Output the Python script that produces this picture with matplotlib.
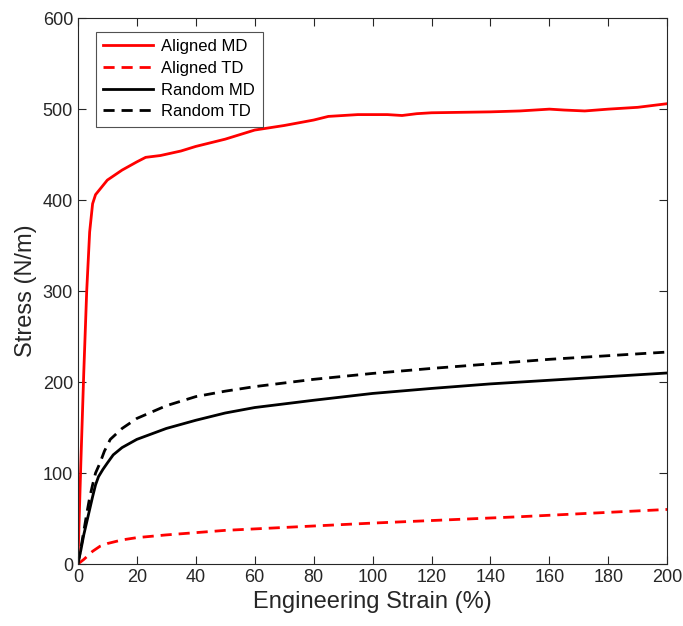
import numpy as np
import matplotlib.pyplot as plt

plt.rcParams['font.family'] = ['Liberation Sans', 'DejaVu Sans']

# strain (%) and stress (N/m)
aligned_md_x = [0, 1, 2, 3, 4, 5, 6, 7.5, 10, 15, 20, 23, 28, 35, 40, 50, 60, 70, 80, 85, 90,
                95, 100, 105, 110, 115, 120, 130, 140, 150, 160, 165, 172, 180, 190, 200]
aligned_md_y = [0, 110, 210, 300, 365, 396, 406, 412, 422, 433, 442, 447, 449, 454, 459, 467,
                477, 482, 488, 492, 493, 494, 494, 494, 493, 495, 496, 496.5, 497, 498, 500, 499,
                498, 500, 502, 506]

aligned_td_x = [0, 2, 5, 7.5, 10, 15, 20, 30, 50, 75, 100, 125, 150, 175, 200]
aligned_td_y = [0, 5, 14, 19.5, 22.5, 26.5, 29, 32, 37, 41, 45, 48.5, 52, 56, 60]

random_md_x = [0, 1, 2, 3, 4, 5, 6, 7, 8.5, 10, 12, 15, 20, 30, 40, 50, 60, 80, 100, 120, 140, 160, 180, 200]
random_md_y = [0, 15, 32, 46, 60, 74, 87, 96, 104, 111, 120, 128, 137, 149, 158, 166, 172, 180, 187.5, 193, 198, 202, 206, 210]

random_td_x = [0, 1, 2, 3, 4, 5, 6, 7.5, 9, 11, 15, 20, 30, 40, 50, 60, 80, 100, 120, 140, 160, 180, 200]
random_td_y = [0, 17, 36, 55, 73, 87, 100, 111, 124, 137, 149, 160, 174, 184, 190, 195, 203, 209.5, 215, 220, 225, 229, 233]

fig = plt.figure(figsize=(6.83, 6.26), dpi=100)
ax = fig.add_axes([0.114, 0.099, 0.863, 0.872])

ax.plot(aligned_md_x, aligned_md_y, color='red', lw=2, label='Aligned MD')
ax.plot(aligned_td_x, aligned_td_y, color='red', lw=2, ls=(0, (4, 2.5)), label='Aligned TD')
ax.plot(random_md_x, random_md_y, color='black', lw=2, label='Random MD')
ax.plot(random_td_x, random_td_y, color='black', lw=2, ls=(0, (4, 2.5)), label='Random TD')

ax.set_xlim(0, 200)
ax.set_ylim(0, 600)
ax.set_xticks(np.arange(0, 201, 20))
ax.set_yticks(np.arange(0, 601, 100))
ax.tick_params(direction='in', top=True, right=True, labelsize=13, length=6, color='#262626', labelcolor='#262626')
for s in ax.spines.values():
    s.set_color('#262626')
    s.set_linewidth(0.8)

ax.set_xlabel('Engineering Strain (%)', fontsize=17, color='#262626')
ax.set_ylabel('Stress (N/m)', fontsize=17, color='#262626')

leg = ax.legend(loc='upper left', bbox_to_anchor=(0.03, 0.975), fontsize=12, frameon=True,
                fancybox=False, edgecolor='#262626', handlelength=3.0, borderpad=0.45,
                labelspacing=0.4, handletextpad=0.5, borderaxespad=0)
leg.get_frame().set_linewidth(0.8)

fig.savefig('out.png', dpi=100)
